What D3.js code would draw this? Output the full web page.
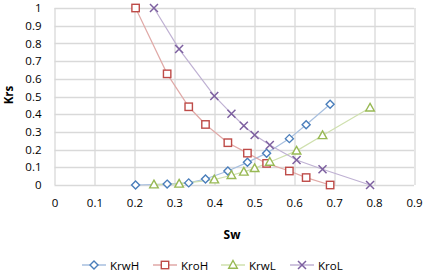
<!DOCTYPE html>
<html>
<head>
<meta charset="utf-8">
<script src="https://cdn.jsdelivr.net/npm/d3@7"></script>
<style>
  body { margin: 0; background: #fff; }
  text { font-family: "Open Sans", "Noto Sans", sans-serif; }
</style>
</head>
<body>
<div id="chart"></div>
<script>
// data
const seriesNames = ["KrwH", "KroH", "KrwL", "KroL"];
const swH = [0.203, 0.282, 0.336, 0.378, 0.434, 0.483, 0.531, 0.588, 0.630, 0.690];
const krwH = [0, 0.005, 0.012, 0.034, 0.079, 0.128, 0.18, 0.262, 0.34, 0.456];
const kroH = [1, 0.628, 0.442, 0.342, 0.239, 0.18, 0.122, 0.079, 0.042, 0];
const swL = [0.249, 0.312, 0.400, 0.443, 0.474, 0.501, 0.539, 0.606, 0.671, 0.790];
const krwL = [0.002, 0.006, 0.03, 0.055, 0.074, 0.094, 0.13, 0.193, 0.28, 0.436];
const kroL = [1, 0.768, 0.503, 0.403, 0.335, 0.282, 0.226, 0.141, 0.089, 0];
const xTicks = [0, 0.1, 0.2, 0.3, 0.4, 0.5, 0.6, 0.7, 0.8, 0.9];
const yTicks = [0, 0.1, 0.2, 0.3, 0.4, 0.5, 0.6, 0.7, 0.8, 0.9, 1];

const colors = ["#4a7ebb", "#be4b48", "#98b954", "#7d60a0"];
const lineColors = ["#a7bfdf", "#e0a9a7", "#cfe0ae", "#bfb1d3"];
const markers = ["diamond", "square", "triangle", "cross"];

const dataReady = [
  {name: "KrwH", values: swH.map((s, i) => ({sw: s, k: krwH[i]}))},
  {name: "KroH", values: swH.map((s, i) => ({sw: s, k: kroH[i]}))},
  {name: "KrwL", values: swL.map((s, i) => ({sw: s, k: krwL[i]}))},
  {name: "KroL", values: swL.map((s, i) => ({sw: s, k: kroL[i]}))}
];

const W = 425, H = 273;
const margin = {top: 8, right: 11, bottom: 88, left: 54.5};
const width = W - margin.left - margin.right,
      height = H - margin.top - margin.bottom;

const svg = d3.select("#chart").append("svg")
    .attr("width", W).attr("height", H);
const g = svg.append("g")
    .attr("transform", `translate(${margin.left},${margin.top})`);

const x = d3.scaleLinear().domain([0, 0.9]).range([0, width]);
const y = d3.scaleLinear().domain([0, 1]).range([height, 0]);

// gridlines
g.selectAll(".vgrid").data(xTicks).join("line")
  .attr("x1", d => Math.round(x(d)) + 0.5).attr("x2", d => Math.round(x(d)) + 0.5)
  .attr("y1", 0).attr("y2", height)
  .attr("stroke", "#d9d9d9").attr("stroke-width", 1.3);
g.selectAll(".hgrid").data(yTicks).join("line")
  .attr("x1", 0).attr("x2", width)
  .attr("y1", d => Math.round(y(d)) + 0.5).attr("y2", d => Math.round(y(d)) + 0.5)
  .attr("stroke", "#d9d9d9").attr("stroke-width", 1.3);

// axes (labels only)
const xAxis = g.append("g")
  .attr("transform", `translate(0,${height})`)
  .call(d3.axisBottom(x).tickValues(xTicks).tickSize(0).tickPadding(14).tickFormat(d3.format("")));
const yAxis = g.append("g")
  .call(d3.axisLeft(y).tickValues(yTicks).tickSize(0).tickPadding(13).tickFormat(d3.format("")));
[xAxis, yAxis].forEach(a => {
  a.select(".domain").remove();
  a.selectAll("text").attr("font-size", 11.5).attr("fill", "#000")
    .style("font-family", "'Open Sans', sans-serif");
});

// lines
const line = d3.line().x(d => x(d.sw)).y(d => y(d.k));
g.selectAll(".series-line").data(dataReady).join("path")
  .attr("d", d => line(d.values))
  .attr("fill", "none")
  .attr("stroke", (d, i) => lineColors[i])
  .attr("stroke-width", 1.2);

function drawMarker(sel, type, color) {
  if (type === "diamond") {
    sel.append("path").attr("d", "M0,-4L4,0L0,4L-4,0Z")
      .attr("fill", "#fff").attr("stroke", color).attr("stroke-width", 1.4);
  } else if (type === "square") {
    sel.append("rect").attr("x", -3.7).attr("y", -3.7).attr("width", 7.4).attr("height", 7.4)
      .attr("fill", "#fff").attr("stroke", color).attr("stroke-width", 1.4);
  } else if (type === "triangle") {
    sel.append("path").attr("d", "M0,-4.5L4.3,3.2L-4.3,3.2Z")
      .attr("fill", "#fff").attr("stroke", color).attr("stroke-width", 1.4);
  } else {
    sel.append("path").attr("d", "M-4,-4L4,4M-4,4L4,-4")
      .attr("fill", "none").attr("stroke", color).attr("stroke-width", 1.5);
  }
}

dataReady.forEach((s, i) => {
  g.append("g").selectAll("g").data(s.values).join("g")
    .attr("transform", d => `translate(${x(d.sw)},${y(d.k)})`)
    .each(function() { drawMarker(d3.select(this), markers[i], colors[i]); });
});

// axis titles
svg.append("text")
  .attr("transform", "translate(13,95) rotate(-90)")
  .attr("text-anchor", "middle")
  .attr("font-size", 11.5).attr("font-weight", "bold")
  .text("Krs");
svg.append("text")
  .attr("x", 232).attr("y", 239)
  .attr("text-anchor", "middle")
  .attr("font-size", 12).attr("font-weight", "bold")
  .text("Sw");

// legend
const legendX = [82, 153, 221, 290];
const legend = svg.selectAll(".legend").data(seriesNames).join("g")
  .attr("transform", (d, i) => `translate(${legendX[i]},265)`);
legend.append("line")
  .attr("x1", 0).attr("x2", 24).attr("y1", 0).attr("y2", 0)
  .attr("stroke", (d, i) => lineColors[i]).attr("stroke-width", 1.5);
legend.each(function(d, i) {
  const m = d3.select(this).append("g").attr("transform", "translate(12,0)");
  drawMarker(m, markers[i], colors[i]);
});
legend.append("text")
  .attr("x", 28).attr("y", 4.5)
  .attr("font-size", 11.5)
  .text(d => d);
</script>
</body>
</html>
